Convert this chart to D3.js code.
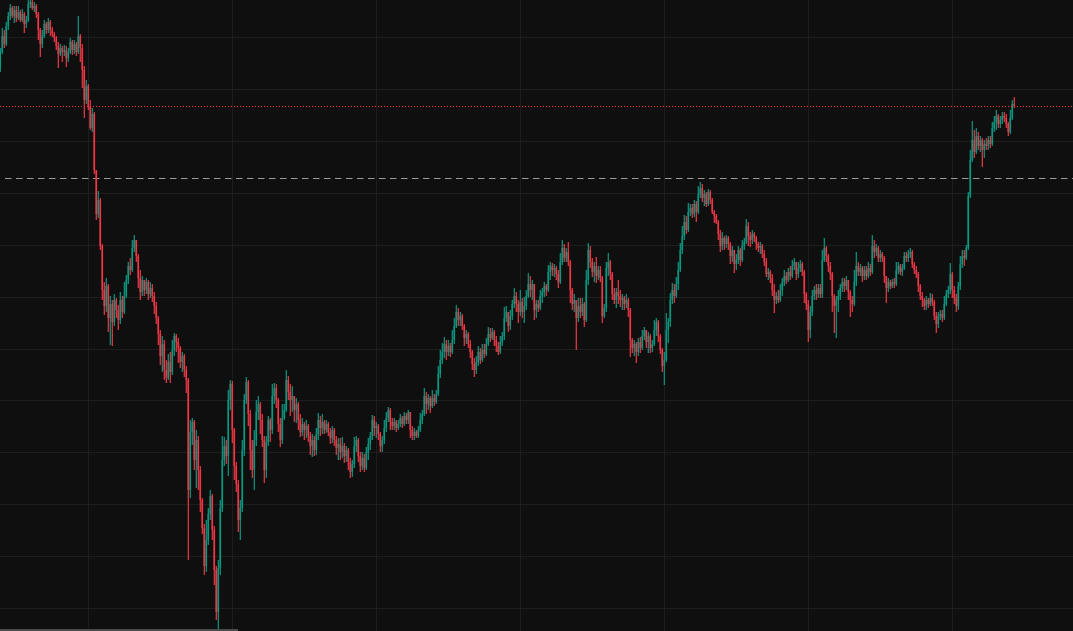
<!DOCTYPE html>
<html>
<head>
<meta charset="utf-8">
<script src="https://cdn.jsdelivr.net/npm/d3@7/dist/d3.min.js"></script>
<style>
  html, body { margin: 0; padding: 0; background: #0f0f0f; overflow: hidden; }
</style>
</head>
<body>
<script>
var svgWidth = 1073;
var svgHeight = 631;

// candle data: open of each bar = previous close
var firstOpen = 1532;

var closes = [
  1548,1564,1556,1574,1584,1592,1584,1590,1582,1588,
  1580,1586,1576,1580,1596,1598,1592,1594,1586,1570,
  1556,1564,1576,1570,1578,1570,1566,1562,1554,1546,
  1552,1548,1550,1542,1548,1558,1550,1556,1548,1564,
  1552,1530,1500,1514,1494,1472,1486,1430,1386,1400,
  1354,1310,1294,1314,1282,1296,1278,1300,1290,1280,
  1300,1288,1304,1320,1334,1330,1352,1360,1344,1322,
  1308,1320,1310,1318,1306,1312,1304,1294,1282,1266,
  1244,1256,1230,1222,1238,1228,1250,1264,1258,1252,
  1238,1244,1230,1220,1110,1168,1178,1140,1160,1130,
  1100,1072,1034,1060,1086,1104,1070,1030,988,1032,
  1092,1140,1154,1144,1200,1216,1170,1134,1116,1080,
  1092,1150,1200,1218,1186,1150,1130,1160,1188,1196,
  1180,1160,1130,1158,1180,1170,1204,1212,1200,1176,
  1160,1182,1190,1220,1208,1200,1204,1190,1196,1180,
  1168,1176,1170,1174,1164,1154,1160,1150,1166,1180,
  1172,1178,1170,1176,1168,1162,1170,1160,1152,1156,
  1148,1154,1144,1150,1138,1128,1136,1154,1160,1144,
  1134,1142,1132,1148,1156,1164,1180,1172,1174,1166,
  1154,1160,1172,1182,1190,1178,1174,1178,1172,1176,
  1182,1176,1184,1180,1188,1170,1164,1168,1164,1170,
  1180,1186,1204,1196,1202,1194,1202,1198,1206,1226,
  1240,1248,1256,1248,1254,1248,1260,1274,1288,1280,
  1284,1274,1262,1266,1256,1248,1236,1230,1238,1248,
  1240,1250,1246,1256,1266,1262,1268,1260,1254,1248,
  1258,1264,1282,1288,1274,1284,1296,1304,1296,1288,
  1298,1288,1294,1304,1316,1310,1316,1290,1296,1292,
  1304,1308,1314,1310,1328,1334,1330,1332,1326,1318,
  1338,1352,1342,1348,1338,1310,1296,1300,1282,1294,
  1288,1296,1280,1320,1350,1338,1328,1334,1324,1330,
  1322,1284,1292,1332,1338,1326,1306,1300,1308,1304,
  1300,1302,1296,1300,1290,1260,1252,1256,1248,1258,
  1252,1264,1270,1258,1264,1252,1256,1270,1278,1264,
  1250,1234,1240,1270,1278,1300,1310,1304,1316,1330,
  1350,1364,1378,1370,1388,1392,1386,1396,1388,1406,
  1412,1402,1406,1396,1408,1400,1388,1384,1378,1366,
  1354,1362,1356,1362,1356,1344,1350,1336,1340,1350,
  1340,1354,1358,1374,1364,1360,1366,1362,1356,1352,
  1354,1346,1338,1326,1328,1322,1310,1300,1304,1300,
  1310,1318,1324,1320,1328,1324,1334,1338,1326,1332,
  1336,1328,1306,1296,1270,1288,1304,1310,1306,1312,
  1306,1340,1352,1344,1334,1326,1304,1294,1300,1304,
  1312,1318,1314,1320,1308,1300,1296,1318,1334,1328,
  1332,1324,1330,1324,1332,1328,1354,1348,1352,1342,
  1346,1342,1324,1312,1318,1314,1318,1316,1330,1334,
  1328,1332,1344,1342,1346,1348,1336,1330,1326,1314,
  1304,1300,1294,1300,1296,1302,1298,1284,1276,1284,
  1286,1282,1296,1306,1310,1326,1310,1302,1294,1314,
  1336,1344,1342,1352,1404,1440,1460,1448,1464,1454,
  1460,1450,1456,1454,1460,1456,1472,1478,1484,1476,
  1480,1484,1482,1476,1468,1482,1496,1494
];

var highs = [
  1552,1572,1570,1578,1588,1596,1594,1594,1594,1594,
  1590,1591,1588,1584,1600,1602,1600,1598,1596,1588,
  1572,1570,1580,1578,1582,1580,1573,1568,1564,1558,
  1556,1554,1555,1554,1552,1562,1560,1560,1558,1584,
  1566,1556,1534,1520,1516,1500,1492,1488,1428,1409,
  1402,1356,1318,1322,1316,1304,1300,1306,1302,1295,
  1308,1304,1318,1325,1338,1342,1360,1365,1360,1346,
  1330,1324,1320,1322,1320,1318,1316,1308,1298,1284,
  1270,1264,1260,1240,1246,1248,1260,1267,1266,1262,
  1254,1248,1246,1234,1222,1180,1182,1180,1170,1164,
  1134,1102,1076,1080,1092,1110,1106,1074,1034,1040,
  1100,1164,1163,1160,1210,1220,1219,1172,1138,1120,
  1100,1160,1206,1223,1220,1190,1160,1170,1200,1204,
  1198,1186,1164,1164,1184,1182,1216,1217,1216,1202,
  1182,1196,1196,1230,1224,1216,1214,1204,1202,1198,
  1186,1182,1178,1180,1176,1168,1166,1164,1172,1187,
  1184,1186,1180,1180,1178,1172,1174,1172,1164,1162,
  1162,1163,1157,1154,1152,1142,1140,1163,1164,1162,
  1148,1148,1146,1153,1162,1168,1185,1184,1178,1176,
  1168,1164,1180,1188,1193,1192,1182,1182,1180,1180,
  1186,1184,1188,1187,1190,1188,1174,1172,1170,1174,
  1187,1190,1212,1208,1206,1204,1210,1206,1210,1234,
  1250,1257,1263,1260,1260,1257,1270,1282,1295,1292,
  1288,1286,1276,1270,1268,1260,1250,1242,1244,1254,
  1252,1256,1256,1262,1273,1272,1272,1270,1264,1258,
  1264,1268,1293,1294,1288,1290,1300,1312,1308,1300,
  1310,1302,1303,1310,1327,1324,1320,1314,1300,1300,
  1310,1312,1318,1316,1335,1338,1337,1336,1334,1330,
  1347,1360,1356,1352,1358,1340,1312,1306,1300,1302,
  1302,1302,1298,1330,1357,1354,1342,1338,1343,1334,
  1334,1324,1296,1338,1347,1340,1328,1312,1312,1320,
  1310,1306,1304,1306,1302,1292,1262,1260,1258,1262,
  1263,1270,1273,1270,1268,1266,1260,1280,1282,1280,
  1266,1252,1248,1287,1282,1307,1317,1316,1323,1338,
  1357,1374,1385,1384,1397,1396,1396,1400,1399,1414,
  1418,1416,1410,1408,1411,1410,1402,1390,1386,1380,
  1370,1368,1364,1365,1364,1358,1354,1350,1346,1354,
  1352,1360,1362,1381,1378,1368,1370,1368,1364,1358,
  1358,1356,1350,1342,1332,1330,1326,1316,1308,1310,
  1316,1322,1330,1328,1332,1334,1340,1342,1338,1338,
  1340,1338,1330,1308,1300,1294,1310,1314,1316,1316,
  1316,1350,1362,1354,1346,1338,1328,1306,1304,1310,
  1316,1322,1322,1324,1320,1310,1304,1330,1348,1338,
  1336,1334,1334,1334,1338,1336,1365,1360,1356,1354,
  1350,1348,1344,1324,1322,1320,1321,1322,1338,1338,
  1336,1336,1348,1348,1350,1352,1350,1338,1334,1328,
  1316,1308,1302,1304,1302,1307,1306,1300,1288,1288,
  1290,1290,1304,1310,1314,1337,1328,1314,1306,1318,
  1344,1350,1350,1355,1408,1450,1479,1470,1472,1468,
  1464,1462,1460,1462,1464,1464,1478,1484,1490,1486,
  1484,1488,1488,1486,1478,1490,1500,1503
];

var lows = [
  1528,1546,1552,1554,1570,1580,1582,1577,1578,1580,
  1578,1578,1567,1572,1578,1592,1590,1588,1582,1560,
  1543,1552,1562,1566,1567,1564,1563,1558,1550,1532,
  1544,1538,1544,1533,1538,1546,1545,1546,1544,1546,
  1538,1512,1482,1496,1490,1470,1468,1426,1380,1382,
  1350,1300,1285,1288,1268,1255,1254,1274,1282,1270,
  1276,1282,1286,1302,1316,1325,1328,1348,1338,1312,
  1300,1304,1304,1306,1300,1302,1298,1286,1276,1255,
  1235,1228,1220,1217,1220,1217,1225,1244,1248,1237,
  1232,1228,1223,1207,1040,1102,1155,1130,1112,1110,
  1088,1066,1025,1028,1055,1080,1060,1015,980,970,
  1025,1088,1134,1136,1124,1190,1157,1120,1108,1068,
  1060,1088,1144,1196,1174,1130,1122,1110,1154,1180,
  1166,1153,1117,1122,1154,1158,1166,1196,1192,1168,
  1153,1156,1180,1188,1200,1184,1188,1178,1177,1170,
  1163,1164,1160,1162,1158,1145,1143,1144,1145,1160,
  1164,1166,1166,1167,1164,1156,1157,1154,1145,1140,
  1140,1142,1137,1138,1130,1122,1123,1132,1148,1138,
  1128,1130,1128,1130,1140,1150,1160,1164,1162,1160,
  1148,1148,1156,1168,1178,1170,1170,1170,1168,1170,
  1173,1172,1174,1176,1176,1162,1160,1160,1162,1162,
  1168,1176,1184,1186,1190,1187,1192,1194,1196,1204,
  1222,1236,1242,1240,1244,1243,1246,1256,1272,1274,
  1274,1270,1254,1256,1252,1242,1230,1223,1226,1234,
  1236,1238,1242,1244,1254,1258,1260,1254,1248,1245,
  1246,1254,1260,1278,1268,1270,1280,1292,1288,1277,
  1284,1282,1277,1290,1302,1303,1300,1280,1282,1288,
  1290,1297,1303,1304,1308,1320,1324,1323,1320,1312,
  1316,1335,1338,1338,1334,1297,1290,1288,1250,1278,
  1282,1284,1273,1278,1315,1332,1323,1318,1317,1320,
  1318,1277,1282,1288,1324,1320,1300,1296,1292,1296,
  1293,1290,1290,1292,1283,1243,1247,1244,1237,1244,
  1247,1250,1260,1252,1247,1247,1248,1254,1264,1258,
  1246,1228,1215,1238,1257,1273,1296,1297,1302,1310,
  1328,1346,1360,1366,1368,1384,1382,1383,1378,1386,
  1402,1398,1394,1393,1394,1396,1386,1377,1376,1360,
  1348,1350,1350,1352,1350,1336,1338,1327,1330,1336,
  1334,1338,1350,1356,1354,1353,1356,1358,1350,1348,
  1346,1342,1334,1323,1320,1317,1304,1287,1296,1297,
  1298,1304,1314,1316,1318,1320,1322,1330,1320,1322,
  1328,1324,1297,1290,1258,1262,1284,1300,1300,1302,
  1302,1302,1338,1338,1328,1320,1288,1267,1262,1288,
  1300,1308,1308,1310,1300,1283,1288,1294,1314,1324,
  1324,1318,1320,1320,1322,1324,1326,1342,1344,1338,
  1338,1338,1317,1297,1308,1311,1312,1312,1314,1326,
  1325,1324,1330,1338,1338,1342,1332,1326,1322,1308,
  1300,1293,1290,1290,1292,1294,1294,1280,1267,1272,
  1280,1278,1280,1294,1302,1306,1302,1296,1288,1290,
  1310,1332,1334,1340,1350,1402,1438,1442,1446,1450,
  1448,1433,1442,1450,1450,1452,1454,1468,1470,1472,
  1472,1476,1478,1472,1464,1466,1480,1492
];

// bar indices where the time grid falls, and price grid levels
var timeTicks = [44, 116, 188, 260, 332, 404, 476];
var priceGrid = [1562.7, 1510.8, 1458.8, 1406.9, 1354.9, 1303.0, 1251.0, 1199.1, 1147.1, 1095.2, 1043.2, 991.3];
var refLevel = 1422;

var upColor = "#089981";
var downColor = "#f23645";

var candles = closes.map(function(c, i) {
    var o = i === 0 ? firstOpen : closes[i - 1];
    return {
        i: i,
        open: o,
        close: c,
        high: Math.max(highs[i], o, c),
        low: Math.min(lows[i], o, c)
    };
});

var svg = d3.select("body")
    .append("svg")
    .attr("width", svgWidth)
    .attr("height", svgHeight)
    .style("display", "block");

svg.append("rect")
    .attr("width", svgWidth)
    .attr("height", svgHeight)
    .attr("fill", "#0f0f0f");

var xScale = d3.scaleLinear().domain([0, closes.length - 1]).range([0.3, 1014.3]);
var yScale = d3.scaleLinear().domain([969, 1600]).range([svgHeight, 0]);

// grid
var grid = svg.append("g").attr("shape-rendering", "crispEdges");
grid.selectAll(".vgrid")
    .data(timeTicks)
    .enter()
    .append("line")
    .attr("x1", d => xScale(d))
    .attr("x2", d => xScale(d))
    .attr("y1", 0)
    .attr("y2", svgHeight)
    .attr("stroke", "#1e1e1e");

grid.selectAll(".hgrid")
    .data(priceGrid)
    .enter()
    .append("line")
    .attr("x1", 0)
    .attr("x2", svgWidth)
    .attr("y1", d => yScale(d))
    .attr("y2", d => yScale(d))
    .attr("stroke", "#1e1e1e");

// reference level
svg.append("line")
    .attr("x1", 5)
    .attr("x2", svgWidth)
    .attr("y1", Math.round(yScale(refLevel)) + 0.5)
    .attr("y2", Math.round(yScale(refLevel)) + 0.5)
    .attr("stroke", "#9a9a9a")
    .attr("stroke-width", 1)
    .attr("stroke-dasharray", "6.5,4.5");

// candles
var candleGroup = svg.append("g");

var bars = candleGroup.selectAll("g")
    .data(candles)
    .enter()
    .append("g");

bars.append("line")
    .attr("x1", d => xScale(d.i))
    .attr("x2", d => xScale(d.i))
    .attr("y1", d => yScale(d.high))
    .attr("y2", d => yScale(d.low))
    .attr("stroke", d => d.close >= d.open ? upColor : downColor)
    .attr("stroke-width", 1.2);

bars.append("rect")
    .attr("x", d => xScale(d.i) - 0.8)
    .attr("width", 1.6)
    .attr("y", d => yScale(Math.max(d.open, d.close)))
    .attr("height", d => Math.max(1, Math.abs(yScale(d.open) - yScale(d.close))))
    .attr("fill", d => d.close >= d.open ? upColor : downColor);

// last price line
var last = candles[candles.length - 1];
svg.append("line")
    .attr("x1", 0)
    .attr("x2", svgWidth)
    .attr("y1", Math.round(yScale(last.close)) + 0.5)
    .attr("y2", Math.round(yScale(last.close)) + 0.5)
    .attr("stroke", last.close >= last.open ? upColor : downColor)
    .attr("stroke-width", 1)
    .attr("stroke-dasharray", "1,2");

// scrollbar strip at bottom
svg.append("rect")
    .attr("x", 0)
    .attr("y", svgHeight - 2)
    .attr("width", 238)
    .attr("height", 2)
    .attr("fill", "#4a4a4a");
</script>
</body>
</html>
